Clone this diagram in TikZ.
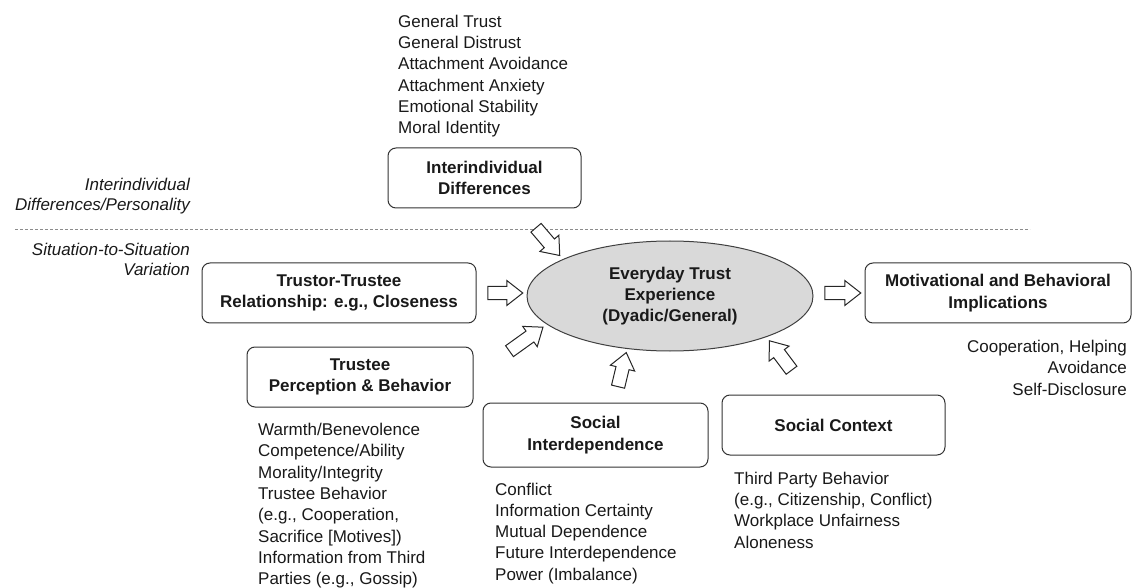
\documentclass[tikz,border=0pt]{standalone}
\usepackage{fontspec}
\setmainfont{Liberation Sans}
\usetikzlibrary{shapes.geometric,shapes.arrows,calc}

% hollow block arrow between two points, with gaps at both ends
\newcommand{\fatarrow}[5]{%
  \path let \p1=($(#2)!#4!(#3)$), \p2=($(#3)!#5!(#2)$), \p3=($(\p2)-(\p1)$),
    \n1={atan2(\y3,\x3)}, \n2={veclen(\x3,\y3)} in
    node[fat arrow, minimum height=\n2, rotate=\n1] (#1) at ($(\p1)!0.5!(\p2)$) {};}

\begin{document}
\begin{tikzpicture}[
      x=1pt, y=-1pt,
      every node/.style={font=\fontsize{17}{21.3}\selectfont, text=black!90},
      box/.style={draw=black!80, line width=1pt, rounded corners=8pt,
                  align=center, inner sep=0pt, font=\fontsize{17}{21.3}\selectfont\bfseries},
      trust ellipse/.style={ellipse, draw=black!75, line width=1pt, fill=black!15,
                  align=center, inner sep=0pt, font=\fontsize{17}{21.3}\selectfont\bfseries},
      list/.style={anchor=north west, align=left, inner sep=0pt},
      side label/.style={anchor=north east, align=right, inner sep=0pt,
                  font=\fontsize{17}{19.5}\selectfont\itshape},
      fat arrow/.style={single arrow, draw=black!85, line width=1pt, fill=white,
                  inner xsep=0pt, inner ysep=6.2pt, minimum width=0pt,
                  single arrow head extend=5.8pt, single arrow tip angle=76,
                  single arrow head indent=0pt},
      level line/.style={draw=black!45, line width=0.6pt, dash pattern=on 3pt off 2pt}]
    \useasboundingbox (0,0) rectangle (1136,588);

    % levels
    \draw[level line] (15,229.5) -- (1030,229.5);
    \node[side label] (lvl1) at (190,178.3) {Interindividual\\Differences/Personality};
    \node[side label] (lvl2) at (190,243) {Situation-to-Situation\\Variation};

    % centre
    \node[trust ellipse, minimum width=286pt, minimum height=110pt] (exp) at (670,296)
      {Everyday Trust\\Experience\\(Dyadic/General)};

    % boxes
    \node[box, minimum width=193pt, minimum height=60pt] (diff) at (484.5,178) {Interindividual\\Differences};
    \node[box, minimum width=274pt, minimum height=60pt] (rel) at (339,293) {Trustor-Trustee\\Relationship: e.g., Closeness};
    \node[box, minimum width=226pt, minimum height=60pt] (tee) at (360,377) {Trustee\\Perception \& Behavior};
    \node[box, minimum width=225pt, minimum height=64pt] (inter) at (595.5,435) {Social\\Interdependence};
    \node[box, minimum width=223pt, minimum height=60pt] (ctx) at (833.5,425) {Social Context};
    \node[box, minimum width=266pt, minimum height=60pt] (mot) at (998,293) {Motivational and Behavioral\\Implications};

    % lists
    \node[list] (diffl) at (398,14.8) {General Trust\\General Distrust\\Attachment Avoidance\\Attachment Anxiety\\Emotional Stability\\Moral Identity};
    \node[list] (teel) at (258,423) {Warmth/Benevolence\\Competence/Ability\\Morality/Integrity\\Trustee Behavior\\(e.g., Cooperation,\\Sacrifice [Motives])\\Information from Third\\Parties (e.g., Gossip)};
    \node[list] (interl) at (495,482.5) {Conflict\\Information Certainty\\Mutual Dependence\\Future Interdependence\\Power (Imbalance)};
    \node[list] (ctxl) at (734,471.7) {Third Party Behavior\\(e.g., Citizenship, Conflict)\\Workplace Unfairness\\Aloneness};
    \node[anchor=north east, align=right, inner sep=0pt] (motl) at (1127,340) {Cooperation, Helping\\Avoidance\\Self-Disclosure};

    % arrows
    \fatarrow{a1}{diff.-41.8}{exp.161}{21pt}{9pt}
    \fatarrow{a2}{rel.east}{rel.east -| exp.west}{7pt}{8pt}
    \fatarrow{a3}{tee.east}{exp.-167.8}{40pt}{9pt}
    \fatarrow{a4}{inter.60}{exp.-129.2}{12pt}{8pt}
    \fatarrow{a5}{ctx.128}{exp.-23.4}{26pt}{9pt}
    \fatarrow{a6}{mot.west -| exp.east}{mot.west}{7pt}{8pt}
\end{tikzpicture}
\end{document}
